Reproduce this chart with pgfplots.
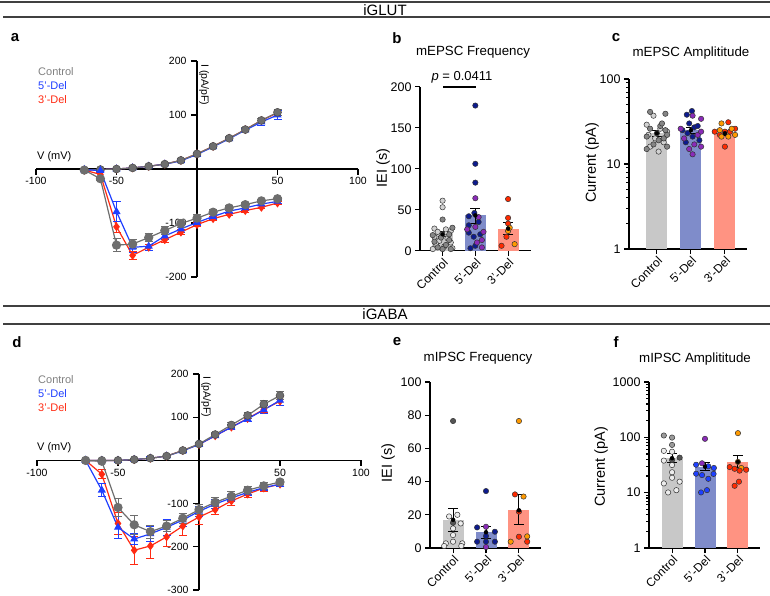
\documentclass[border=0pt]{standalone}
\usepackage{pgfplots}
\pgfplotsset{compat=1.18}
\usepackage{pgfplotstable}
\usepackage{fontspec}
\setmainfont{Liberation Sans}

\definecolor{cgray}{HTML}{6E6E6E}
\definecolor{cblue}{HTML}{1F3FFF}
\definecolor{cred}{HTML}{FF2A12}
\definecolor{legGray}{HTML}{808080}
\definecolor{barGray}{HTML}{C8C8C8}
\definecolor{barBlue}{HTML}{7F8CCA}
\definecolor{barRed}{HTML}{FF9382}
\definecolor{ptLight}{HTML}{D2D2D2}
\definecolor{ptDark}{HTML}{858585}
\definecolor{ptDarker}{HTML}{555555}
\definecolor{ptWhite}{HTML}{EDEDED}
\definecolor{ptMid}{HTML}{9A9A9A}
\definecolor{ptNavy}{HTML}{0D1B8E}
\definecolor{ptPurple}{HTML}{8A2BB8}
\definecolor{ptRed}{HTML}{FF2A00}
\definecolor{ptOrange}{HTML}{FF9A00}
\definecolor{ptBlue}{HTML}{1E40FF}

% ---------------- IV data ----------------
\pgfplotstableread{
V c ce b be r re
-70 -2 1 -2 1 -2 1
-60 -1 1 -1 1 -1 1
-50 0 1 0 1 0 1
-40 2 2 2 2 2 2
-30 5 2 5 2 5 2
-20 9 3 9 3 9 3
-10 16 3 15 3 16 3
0 28 3 27 3 28 3
10 42 3 41 3 42 3
20 57 3 56 3 57 3
30 73 3 72 3 73 3
40 90 4 87 7 90 4
50 105 5 100 9 104 5
}\ivAup
\pgfplotstableread{
V c ce b be r re
-70 -2 1 -1 1 -2 1
-60 -18 3 -3 2 -10 4
-50 -141 12 -79 18 -107 10
-40 -139 8 -145 9 -160 7
-30 -127 8 -143 8 -145 6
-20 -114 7 -124 7 -131 5
-10 -101 7 -111 6 -117 5
0 -91 6 -99 5 -103 4
10 -80 5 -88 5 -92 4
20 -72 4 -78 4 -84 3
30 -66 4 -72 4 -77 3
40 -59 3 -65 3 -71 3
50 -55 3 -60 3 -63 3
}\ivAlow
\pgfplotstableread{
V c ce b be r re
-70 0 1 0 1 0 1
-60 0 1 0 1 0 1
-50 0 1 0 1 0 1
-40 2 2 2 2 2 2
-30 5 2 5 3 5 2
-20 10 3 10 4 10 3
-10 23 3 22 4 23 3
0 38 4 37 4 37 4
10 60 4 57 5 57 4
20 82 5 77 6 77 5
30 104 6 96 7 97 6
40 130 8 117 9 118 8
50 150 10 139 11 137 10
}\ivDup
\pgfplotstableread{
V c ce b be r re
-70 0 1 0 1 0 1
-60 -2 2 -69 15 -32 10
-50 -109 20 -155 25 -146 25
-40 -149 22 -182 12 -208 33
-30 -165 15 -170 17 -198 30
-20 -152 13 -155 18 -177 22
-10 -134 12 -138 15 -152 22
0 -114 12 -118 12 -131 18
10 -97 10 -101 10 -114 12
20 -83 10 -87 9 -94 10
30 -69 9 -74 8 -78 8
40 -59 8 -63 7 -64 7
50 -50 6 -55 6 -55 6
}\ivDlow

\pgfplotsset{
  every axis/.append style={
    font=\fontsize{10.5}{12}\selectfont,
    scale only axis, clip=false, anchor=south west,
    /pgf/number format/assume math mode=true,
    /pgf/number format/1000 sep={},
    tick style={line width=1.1pt, black},
    major tick length=5pt,
  },
  noarrows/.style={
    axis line style={line width=1.1pt,-},
    every inner x axis line/.append style={-},
    every inner y axis line/.append style={-},
    every outer x axis line/.append style={-},
    every outer y axis line/.append style={-},
  },
  ivax/.style={
    axis lines=middle, noarrows,
    xtick={-100,-50,50,100}, minor tick num=0,
    major tick length=0pt,
    xticklabel style={yshift=-5pt},
    yticklabel style={xshift=-7pt},
  },
  ivline/.style={line width=1.2pt, color=#1,
    /pgfplots/error bars/y dir=both, /pgfplots/error bars/y explicit,
    /pgfplots/error bars/error bar style={line width=1pt},
    /pgfplots/error bars/error mark options={rotate=90, mark size=4pt, line width=1pt}},
  barax/.style={
    axis lines=left, noarrows, tick align=outside,
    font=\fontsize{12.5}{14}\selectfont,
    xtick={0,1,2}, xticklabels={Control,5'-Del,3'-Del},
    xticklabel style={rotate=45, anchor=north east, inner sep=1pt, font=\fontsize{12}{14}\selectfont},
    xtick pos=bottom, ytick pos=left,
    minor tick num=0,
  },
  onebar/.style={ybar, bar shift=0pt, bar width=21pt, fill=#1, draw=none},
  errbar/.style={only marks, mark=none, black,
    /pgfplots/error bars/y dir=both, /pgfplots/error bars/y explicit,
    /pgfplots/error bars/error bar style={line width=1pt, black},
    /pgfplots/error bars/error mark options={rotate=90, mark size=5pt, line width=1pt, black}},
  dots/.style={only marks, mark=*, mark size=2.7pt,
    mark options={fill=#1, draw=black!80, line width=0.5pt}},
}

\begin{document}
\begin{tikzpicture}
\path[use as bounding box] (0pt,0pt) rectangle (770pt,595pt);

% ---------- headers ----------
\draw[line width=2pt, black!75] (0pt,593pt) -- (770pt,593pt);
\draw[line width=2pt, black!75] (3pt,577.5pt) -- (770pt,577.5pt);
\node[font=\fontsize{15}{17}\selectfont] at (385pt,585pt) {iGLUT};
\draw[line width=2pt, black!75] (3pt,289pt) -- (770pt,289pt);
\draw[line width=2pt, black!75] (3pt,271.5pt) -- (770pt,271.5pt);
\node[font=\fontsize{15}{17}\selectfont] at (385pt,280.5pt) {iGABA};

% panel letters
\node[font=\fontsize{15}{17}\bfseries\selectfont] at (15pt,557pt) {a};
\node[font=\fontsize{15}{17}\bfseries\selectfont] at (397pt,557pt) {b};
\node[font=\fontsize{15}{17}\bfseries\selectfont] at (616pt,557pt) {c};
\node[font=\fontsize{15}{17}\bfseries\selectfont] at (17pt,253pt) {d};
\node[font=\fontsize{15}{17}\bfseries\selectfont] at (397pt,253pt) {e};
\node[font=\fontsize{15}{17}\bfseries\selectfont] at (616pt,253pt) {f};

% titles
\node[font=\fontsize{13.3}{15}\selectfont] at (473pt,543pt) {mEPSC Frequency};
\node[font=\fontsize{13.3}{15}\selectfont] at (691pt,542pt) {mEPSC Amplititude};
\node[font=\fontsize{13.3}{15}\selectfont] at (478pt,237pt) {mIPSC Frequency};
\node[font=\fontsize{13.3}{15}\selectfont] at (695pt,236pt) {mIPSC Amplititude};

% y labels
\node[rotate=90, font=\fontsize{14.5}{16}\selectfont] at (383pt,427pt) {IEI (s)};
\node[rotate=90, font=\fontsize{14.5}{16}\selectfont] at (592pt,432pt) {Current (pA)};
\node[rotate=90, font=\fontsize{14.5}{16}\selectfont] at (388pt,132pt) {IEI (s)};
\node[rotate=90, font=\fontsize{14.5}{16}\selectfont] at (601pt,128pt) {Current (pA)};

% IV labels and legends
\node[anchor=west, font=\fontsize{11}{13}\selectfont, inner sep=0pt] at (37pt,438pt) {V (mV)};
\node[rotate=-90, font=\fontsize{10.5}{12}\selectfont] at (204pt,510pt) {I (pA/pF)};
\node[anchor=west, font=\fontsize{11}{13}\selectfont, inner sep=0pt, text=legGray] at (38pt,523pt) {Control};
\node[anchor=west, font=\fontsize{11}{13}\selectfont, inner sep=0pt, text=cblue] at (38pt,509pt) {5'-Del};
\node[anchor=west, font=\fontsize{11}{13}\selectfont, inner sep=0pt, text=cred] at (38pt,495pt) {3'-Del};

\node[anchor=west, font=\fontsize{11}{13}\selectfont, inner sep=0pt] at (37pt,147pt) {V (mV)};
\node[rotate=-90, font=\fontsize{10.5}{12}\selectfont] at (206pt,198pt) {I (pA/pF)};
\node[anchor=west, font=\fontsize{11}{13}\selectfont, inner sep=0pt, text=legGray] at (38pt,215pt) {Control};
\node[anchor=west, font=\fontsize{11}{13}\selectfont, inner sep=0pt, text=cblue] at (38pt,201pt) {5'-Del};
\node[anchor=west, font=\fontsize{11}{13}\selectfont, inner sep=0pt, text=cred] at (38pt,187pt) {3'-Del};

% ================= panel a =================
\begin{axis}[ivax, at={(36pt,318pt)}, width=322pt, height=216pt,
  xmin=-100, xmax=100, ymin=-200, ymax=200, ytick={-200,-100,100,200}]
\pgfplotsinvokeforeach{-100,-50,50,100}{\draw[line width=1.1pt] (axis cs:#1,0) -- ++(0pt,-6pt);}
\pgfplotsinvokeforeach{-200,-100,100,200}{\draw[line width=1.1pt] (axis cs:0,#1) -- ++(-6pt,0pt);}
\addplot[ivline=cred, mark=diamond*, mark size=3.5pt, mark options={fill=cred,draw=cred}] table[x=V,y=r,y error=re]{\ivAup};
\addplot[ivline=cblue, mark=triangle*, mark size=3.5pt, mark options={fill=cblue,draw=cblue}] table[x=V,y=b,y error=be]{\ivAup};
\addplot[ivline=cgray, mark=*, mark size=4pt, mark options={fill=cgray,draw=black!70,line width=0.5pt}] table[x=V,y=c,y error=ce]{\ivAup};
\addplot[ivline=cred, mark=diamond*, mark size=3.5pt, mark options={fill=cred,draw=cred}] table[x=V,y=r,y error=re]{\ivAlow};
\addplot[ivline=cblue, mark=triangle*, mark size=3.5pt, mark options={fill=cblue,draw=cblue}] table[x=V,y=b,y error=be]{\ivAlow};
\addplot[ivline=cgray, mark=*, mark size=4pt, mark options={fill=cgray,draw=cgray}] table[x=V,y=c,y error=ce]{\ivAlow};
\end{axis}

% ================= panel d =================
\begin{axis}[ivax, at={(37pt,5pt)}, width=324pt, height=216pt,
  xmin=-100, xmax=100, ymin=-300, ymax=200, ytick={-300,-200,-100,100,200}]
\pgfplotsinvokeforeach{-100,-50,50,100}{\draw[line width=1.1pt] (axis cs:#1,0) -- ++(0pt,-6pt);}
\pgfplotsinvokeforeach{-300,-200,-100,100,200}{\draw[line width=1.1pt] (axis cs:0,#1) -- ++(-6pt,0pt);}
\addplot[ivline=cred, mark=diamond*, mark size=3.5pt, mark options={fill=cred,draw=cred}] table[x=V,y=r,y error=re]{\ivDup};
\addplot[ivline=cblue, mark=triangle*, mark size=3.5pt, mark options={fill=cblue,draw=cblue}] table[x=V,y=b,y error=be]{\ivDup};
\addplot[ivline=cgray, mark=*, mark size=4pt, mark options={fill=cgray,draw=black!70,line width=0.5pt}] table[x=V,y=c,y error=ce]{\ivDup};
\addplot[ivline=cred, mark=diamond*, mark size=3.5pt, mark options={fill=cred,draw=cred}] table[x=V,y=r,y error=re]{\ivDlow};
\addplot[ivline=cblue, mark=triangle*, mark size=3.5pt, mark options={fill=cblue,draw=cblue}] table[x=V,y=b,y error=be]{\ivDlow};
\addplot[ivline=cgray, mark=*, mark size=4pt, mark options={fill=cgray,draw=cgray}] table[x=V,y=c,y error=ce]{\ivDlow};
\end{axis}

% ================= panel b =================
\begin{axis}[barax, at={(420pt,344.3pt)}, width=111pt, height=164pt,
  xmin=-0.69, xmax=2.7, ymin=0, ymax=200, ytick={0,50,100,150,200}]
\addplot[onebar=barGray] coordinates {(0,20)};
\addplot[onebar=barBlue] coordinates {(1,43)};
\addplot[onebar=barRed] coordinates {(2,27)};
\addplot[dots=ptLight] coordinates {(0,61) (0,53) (-0.25,27) (0.1,26) (-0.15,23) (0.25,24) (0,20) (-0.25,17) (0.15,15) (-0.1,12) (0.25,10) (-0.2,8) (0.05,5) (0.3,3) (-0.3,2)};
\addplot[dots=ptDark] coordinates {(0,38) (0.3,28) (-0.3,19) (0.2,20) (-0.05,16) (0.2,13) (-0.25,11) (0.1,7) (-0.15,4) (0.25,2) (0,2)};
\addplot[dots=ptNavy] coordinates {(1,177) (1,106) (1,83) (0.97,46) (0.8,42) (1.1,35) (0.8,31) (0.8,22) (0.95,17) (1,6) (0.85,3) (1.15,20)};
\addplot[dots=ptPurple] coordinates {(1,64) (1.1,41) (1,29) (1.25,23) (1.2,13) (1.2,4) (0.75,26) (1.05,10)};
\addplot[dots=ptRed] coordinates {(2,63) (2,40) (2,33) (1.95,17) (1.8,6)};
\addplot[dots=ptOrange] coordinates {(2,24) (2.2,8) (2.05,28)};
\addplot[errbar] coordinates {(0,20) +- (0,3)};
\addplot[errbar] coordinates {(1,43) += (0,9) -= (0,10)};
\addplot[errbar] coordinates {(2,27) += (0,7.5) -= (0,7.5)};
\end{axis}
\draw[line width=1.1pt] (443pt,508pt) -- (476pt,508pt);
\node[font=\fontsize{13}{15}\selectfont] at (462pt,518pt) {\textit{p} = 0.0411};

% ================= panel c =================
\begin{axis}[barax, at={(629pt,346pt)}, width=118pt, height=170pt,
  xmin=-0.82, xmax=2.65, ymode=log, ymin=1, ymax=100, ytick={1,10,100},
  log ticks with fixed point]
\addplot[onebar=barGray] coordinates {(0,23)};
\addplot[onebar=barBlue] coordinates {(1,25)};
\addplot[onebar=barRed] coordinates {(2,23)};
\addplot[dots=ptLight] coordinates {(-0.1,37) (-0.3,29) (0.1,26) (-0.25,22) (0.2,18) (-0.2,16) (0.05,14) (0.3,24) (-0.05,20)};
\addplot[dots=ptDark] coordinates {(-0.2,41) (0.25,39) (0.1,28) (-0.2,26) (0.25,25) (0,23) (0.3,22) (-0.3,21) (0.05,19) (-0.1,17) (0.3,16) (-0.3,15) (0.2,20) (0.15,30)};
\addplot[dots=ptNavy] coordinates {(1.03,42) (0.88,38) (0.95,30) (1.1,27) (0.75,25) (0.9,23) (1.05,21) (1.25,19) (0.85,18) (1.2,28)};
\addplot[dots=ptPurple] coordinates {(1.05,37) (1.3,34) (0.7,26) (1.2,22) (0.8,20) (1.1,17) (1.3,16) (0.95,15) (1.05,13) (1.3,24)};
\addplot[dots=ptRed] coordinates {(2.1,31) (2.3,26) (1.7,24) (2,24) (2.15,24) (1.85,22) (2,16)};
\addplot[dots=ptOrange] coordinates {(1.9,30) (1.85,25) (1.9,21) (2.1,21) (2.3,22) (2.2,26)};
\addplot[errbar] coordinates {(0,23) +- (0,2)};
\addplot[errbar] coordinates {(1,25) +- (0,2)};
\addplot[errbar] coordinates {(2,23) +- (0,1.5)};
\end{axis}

% ================= panel e =================
\begin{axis}[barax, at={(430pt,47pt)}, width=111pt, height=166pt,
  xmin=-0.70, xmax=2.67, ymin=0, ymax=100, ytick={0,20,40,60,80,100}]
\addplot[onebar=barGray] coordinates {(0,17)};
\addplot[onebar=barBlue] coordinates {(1,9.5)};
\addplot[onebar=barRed] coordinates {(2,22.7)};
\addplot[dots=ptWhite] coordinates {(0.13,20) (-0.12,19) (0.23,14.8) (0,11.8) (0,7.8) (-0.22,2.8) (0.28,2.8) (0,3.8) (-0.27,1.2) (0.25,1.2)};
\addplot[dots=ptDarker] coordinates {(0,76.5) (0,15.2)};
\addplot[dots=ptNavy] coordinates {(1,34.3) (0.73,12.4) (1.27,9.8) (1,7.2) (0.73,3.8) (1,3.8) (1.27,3.8)};
\addplot[dots=ptPurple] coordinates {(1,12.8) (1,0.6)};
\addplot[dots=ptRed] coordinates {(1.88,32.3) (2,21.9) (2,6.8) (2.25,3.8)};
\addplot[dots=ptOrange] coordinates {(2,76.5) (2.14,31) (2.25,7) (1.75,3.8)};
\addplot[errbar] coordinates {(0,17) += (0,7) -= (0,7)};
\addplot[errbar] coordinates {(1,9.5) += (0,3.5) -= (0,3.5)};
\addplot[errbar] coordinates {(2,22.7) += (0,9.3) -= (0,8.5)};
\end{axis}

% ================= panel f =================
\begin{axis}[barax, at={(649pt,47pt)}, width=111pt, height=166pt,
  xmin=-0.70, xmax=2.67, ymode=log, ymin=1, ymax=1000, ytick={1,10,100,1000},
  log ticks with fixed point]
\addplot[onebar=barGray] coordinates {(0,42)};
\addplot[onebar=barBlue] coordinates {(1,29.5)};
\addplot[onebar=barRed] coordinates {(2,36)};
\addplot[dots=ptMid] coordinates {(-0.25,108) (0,99) (0,73)};
\addplot[dots=ptWhite] coordinates {(-0.25,57) (0,55) (-0.25,38) (0,31.6) (0,23.4) (0,18.6) (0.23,15.8) (-0.25,14.7) (-0.12,10.1) (0.13,11.1)};
\addplot[dots=ptDarker] coordinates {(0.23,43) (0,39)};
\addplot[dots=ptPurple] coordinates {(1,94) (0.91,34)};
\addplot[dots=ptBlue] coordinates {(1.1,30) (0.73,32) (1.26,21.8) (0.91,20.8) (1.1,17.8) (0.73,22) (1.06,11.1) (0.88,10.1) (1.27,28)};
\addplot[dots=ptOrange] coordinates {(2,119) (2,36) (2.1,28)};
\addplot[dots=ptRed] coordinates {(1.75,29) (1.9,27) (2.25,26) (2.05,25) (2.03,15.8) (1.9,13.3)};
\addplot[errbar] coordinates {(0,42) += (0,8) -= (0,7)};
\addplot[errbar] coordinates {(1,29.5) += (0,5.5) -= (0,4.5)};
\addplot[errbar] coordinates {(2,36) += (0,11) -= (0,8)};
\end{axis}
\end{tikzpicture}
\end{document}
